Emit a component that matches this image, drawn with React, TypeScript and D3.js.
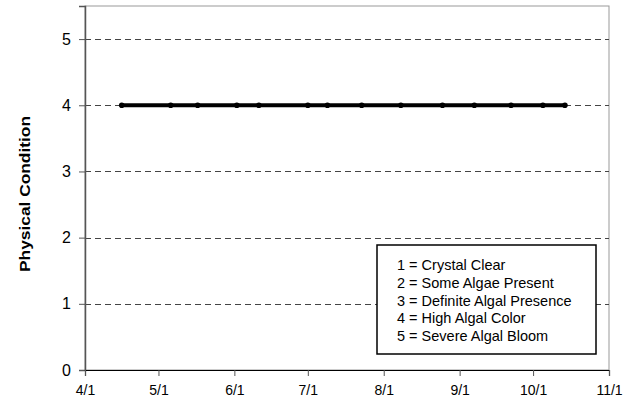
import React, { useEffect, useRef } from 'react';
import * as d3 from 'd3';

const sampleDates = [
  '2007-04-16', '2007-05-06', '2007-05-17', '2007-06-02', '2007-06-11',
  '2007-07-01', '2007-07-09', '2007-07-23', '2007-08-08', '2007-08-25',
  '2007-09-07', '2007-09-22', '2007-10-05', '2007-10-14',
];
const conditionValues = [4, 4, 4, 4, 4, 4, 4, 4, 4, 4, 4, 4, 4, 4];
const yTicks = [0, 1, 2, 3, 4, 5];
const xTickDates = ['2007-04-01', '2007-05-01', '2007-06-01', '2007-07-01', '2007-08-01', '2007-09-01', '2007-10-01', '2007-11-01'];
const legendLines = [
  '1 = Crystal Clear',
  '2 = Some Algae Present',
  '3 = Definite Algal Presence',
  '4 = High Algal Color',
  '5 = Severe Algal Bloom',
];

const WIDTH = 637;
const HEIGHT = 412;
const MARGIN = { top: 6, right: 28, bottom: 42, left: 85 };
const FONT = 'Liberation Sans, Arial, sans-serif';

const App: React.FC = () => {
  const svgRef = useRef<SVGSVGElement>(null);

  useEffect(() => {
    const svg = d3.select(svgRef.current);
    svg.selectAll('*').remove();

    const chartWidth = WIDTH - MARGIN.left - MARGIN.right;
    const chartHeight = HEIGHT - MARGIN.top - MARGIN.bottom;
    const parse = d3.timeParse('%Y-%m-%d');

    const data = sampleDates.map((d, i) => ({ date: parse(d)!, value: conditionValues[i] }));
    const tickDates = xTickDates.map(d => parse(d)!);

    const xScale = d3.scaleTime()
      .domain([tickDates[0], tickDates[tickDates.length - 1]])
      .range([0, chartWidth]);

    const yScale = d3.scaleLinear()
      .domain([0, 5.5])
      .range([chartHeight, 0]);

    const g = svg.append('g').attr('transform', `translate(${MARGIN.left},${MARGIN.top})`);

    // plot frame (top/right)
    g.append('rect')
      .attr('x', 0)
      .attr('y', 0)
      .attr('width', chartWidth)
      .attr('height', chartHeight)
      .attr('fill', 'white')
      .attr('stroke', '#999')
      .attr('stroke-width', 1);

    // Gridlines
    g.selectAll('.grid')
      .data(yTicks.filter(t => t > 0))
      .enter().append('line')
      .attr('x1', 0)
      .attr('x2', chartWidth)
      .attr('y1', d => Math.round(yScale(d)) + 0.5)
      .attr('y2', d => Math.round(yScale(d)) + 0.5)
      .attr('stroke', '#444')
      .attr('stroke-width', 1)
      .attr('stroke-dasharray', '6,4');

    // Y axis
    const yAxis = d3.axisLeft(yScale).tickValues(yTicks).tickSize(6).tickPadding(8).tickFormat(d3.format('d'));
    const yG = g.append('g').call(yAxis);
    yG.select('.domain').attr('stroke', '#555').attr('stroke-width', 1.5);
    yG.selectAll('.tick line').attr('stroke', '#555');
    yG.selectAll('text')
      .style('font-family', FONT)
      .style('font-size', '16px')
      .attr('fill', '#000');

    // X axis
    const xAxis = d3.axisBottom(xScale)
      .tickValues(tickDates)
      .tickSize(6)
      .tickPadding(9)
      .tickFormat(d => d3.timeFormat('%-m/%-d')(d as Date));
    const xG = g.append('g').attr('transform', `translate(0,${chartHeight})`).call(xAxis);
    xG.select('.domain').attr('stroke', '#000').attr('stroke-width', 1.2);
    xG.selectAll('.tick line').attr('stroke', '#555');
    xG.selectAll('text')
      .style('font-family', FONT)
      .style('font-size', '14px')
      .attr('fill', '#000');

    // Y axis label
    g.append('text')
      .attr('text-anchor', 'middle')
      .attr('transform', 'rotate(-90)')
      .attr('x', -188)
      .attr('y', -MARGIN.left + 30)
      .attr('textLength', 156)
      .attr('lengthAdjust', 'spacingAndGlyphs')
      .style('font-family', FONT)
      .style('font-size', '14px')
      .style('font-weight', 'bold')
      .style('fill', '#000')
      .text('Physical Condition');

    // Line
    const line = d3.line<{ date: Date; value: number }>()
      .x(d => xScale(d.date))
      .y(d => yScale(d.value));

    g.append('path')
      .datum(data)
      .attr('fill', 'none')
      .attr('stroke', '#000')
      .attr('stroke-width', 4)
      .attr('d', line);

    g.selectAll('.dot')
      .data(data)
      .enter().append('circle')
      .attr('class', 'dot')
      .attr('cx', d => xScale(d.date))
      .attr('cy', d => yScale(d.value))
      .attr('r', 2.8)
      .attr('fill', '#000');

    // Legend
    const legendX = 377 - MARGIN.left;
    const legendY = 245 - MARGIN.top;
    const legendW = 219;
    const legendH = 109;
    const legend = g.append('g').attr('transform', `translate(${legendX},${legendY})`);
    legend.append('rect')
      .attr('width', legendW)
      .attr('height', legendH)
      .attr('fill', 'white')
      .attr('stroke', '#000')
      .attr('stroke-width', 1.5);

    legend.selectAll('.legend-text')
      .data(legendLines)
      .enter().append('text')
      .attr('x', 20)
      .attr('y', (d, i) => 20 + i * 17.8)
      .attr('dy', '0.35em')
      .style('font-family', FONT)
      .style('font-size', '14.5px')
      .style('fill', '#000')
      .text(d => d);
  }, []);

  return <svg ref={svgRef} width={WIDTH} height={HEIGHT} style={{ position: 'absolute', left: 0, top: 0 }}></svg>;
};

export default App;
